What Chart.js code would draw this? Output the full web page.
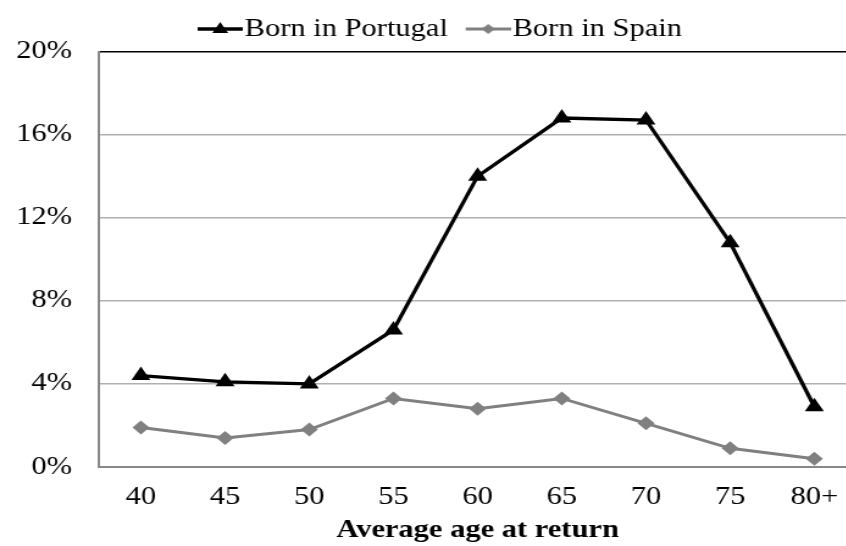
<!DOCTYPE html>
<html>
<head>
<meta charset="utf-8">
<script src="https://cdn.jsdelivr.net/npm/chart.js@4.4.0/dist/chart.umd.min.js"></script>
<style>
  html, body { margin: 0; padding: 0; background: #fff; overflow: hidden; width: 846px; height: 546px; }
  /* the reference is stretched sideways, so draw narrow and widen it */
  #wrap { width: 711px; height: 546px; transform: scaleX(1.22); transform-origin: 0 0; }
</style>
</head>
<body>
<div id="wrap"><canvas id="chart"></canvas></div>
<script>
const ages = ["40", "45", "50", "55", "60", "65", "70", "75", "80+"];
const bornPortugal = [4.4, 4.1, 4.0, 6.6, 14.0, 16.8, 16.7, 10.8, 2.9];
const bornSpain = [1.9, 1.4, 1.8, 3.3, 2.8, 3.3, 2.1, 0.9, 0.4];
const seriesNames = ["Born in Portugal", "Born in Spain"];
const yTicks = [0, 4, 8, 12, 16, 20];

Chart.defaults.font.family = "Times New Roman, Liberation Serif, Tinos, serif";
Chart.defaults.color = "#000";

// legend icon: short line with the marker in the middle
function legendIcon(color, shape, lw) {
  const c = document.createElement("canvas");
  c.width = 46; c.height = 22;
  const g = c.getContext("2d");
  g.strokeStyle = color; g.fillStyle = color; g.lineWidth = lw;
  g.beginPath(); g.moveTo(9, 11); g.lineTo(46, 11); g.stroke();
  const cx = 27.5, cy = 11;
  g.beginPath();
  if (shape === "triangle") {
    g.moveTo(cx, cy - 7); g.lineTo(cx + 6.5, cy + 4); g.lineTo(cx - 6.5, cy + 4);
  } else {
    g.moveTo(cx, cy - 5); g.lineTo(cx + 5.5, cy); g.lineTo(cx, cy + 5); g.lineTo(cx - 5.5, cy);
  }
  g.closePath(); g.fill();
  return c;
}
const icons = [legendIcon("#000", "triangle", 3.5), legendIcon("#808080", "diamond", 3)];

new Chart(document.getElementById("chart"), {
  type: "line",
  data: {
    labels: ages,
    datasets: [
      {
        label: seriesNames[0],
        data: bornPortugal,
        borderColor: "#000",
        backgroundColor: "#000",
        borderWidth: 3.3,
        pointStyle: "triangle",
        pointRadius: 9,
        pointBorderWidth: 0,
        tension: 0
      },
      {
        label: seriesNames[1],
        data: bornSpain,
        borderColor: "#808080",
        backgroundColor: "#808080",
        borderWidth: 3,
        pointStyle: "rectRot",
        pointRadius: 7,
        pointBorderWidth: 0,
        tension: 0
      }
    ]
  },
  options: {
    responsive: true,
    maintainAspectRatio: false,
    animation: false,
    layout: { padding: { left: 12, top: 0, right: 0, bottom: 3 } },
    plugins: {
      tooltip: { enabled: false },
      legend: {
        position: "top",
        labels: {
          usePointStyle: true,
          pointStyleWidth: 24,
          padding: 16.5,
          font: { size: 25 },
          generateLabels(chart) {
            const items = Chart.defaults.plugins.legend.labels.generateLabels(chart);
            items.forEach((it, i) => { it.pointStyle = icons[i]; });
            return items;
          }
        }
      }
    },
    scales: {
      x: {
        offset: true,
        grid: { display: false, offset: true, drawTicks: false },
        border: { color: "#888", width: 2 },
        ticks: { font: { size: 25, lineHeight: 1 }, padding: 18 },
        title: {
          display: true,
          text: "Average age at return",
          font: { size: 25, weight: "bold", lineHeight: 1 },
          padding: { top: -10, bottom: 0 }
        }
      },
      y: {
        min: 0,
        max: 20,
        afterFit(scale) { scale.width = 69; },
        afterBuildTicks(scale) { scale.ticks = yTicks.map(v => ({ value: v })); },
        grid: {
          drawTicks: false,
          lineWidth: 1.5,
          color: ctx => (ctx.tick && ctx.tick.value === 20 ? "#000" : "#b0b0b0")
        },
        border: { color: "#888", width: 2 },
        ticks: {
          font: { size: 25 },
          padding: 22,
          callback: v => v + "%"
        }
      }
    }
  }
});
</script>
</body>
</html>
